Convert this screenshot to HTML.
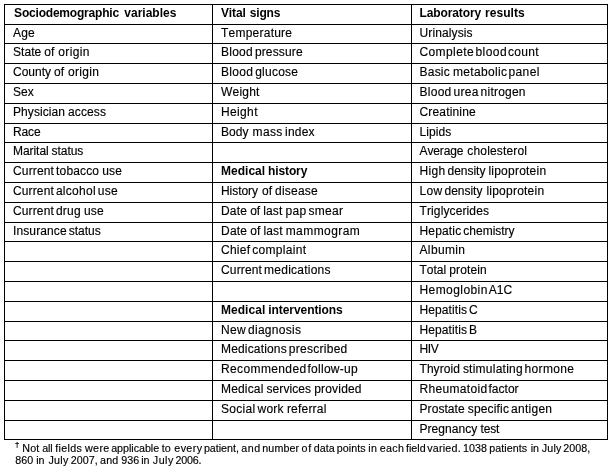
<!DOCTYPE html>
<html><head><meta charset="utf-8"><title>Table</title>
<style>
html,body{margin:0;padding:0;background:#fff;}
body{width:613px;height:470px;position:relative;overflow:hidden;font-family:"Liberation Sans",Arial,sans-serif;font-size:12px;color:#000;font-kerning:none;}
.h,.v{position:absolute;background:#000;}
.h{height:1px;left:4px;width:604px;}
.v{width:1px;top:4px;height:436px;}
.t{position:absolute;white-space:nowrap;line-height:14px;height:14px;-webkit-text-stroke:0.15px #000;}
.b{font-weight:bold;-webkit-text-stroke:0;}
.f{position:absolute;left:0;width:613px;height:13px;font-size:10.7px;line-height:13px;-webkit-text-stroke:0.15px #000;}
.f span{position:absolute;top:0;white-space:pre;}
.dg{position:absolute;left:15.0px;top:440px;font-size:7.5px;line-height:10px;font-weight:bold;transform:scaleX(1.25);transform-origin:50% 50%;}
</style></head><body>

<div class="h" style="top:4px"></div>
<div class="h" style="top:24px"></div>
<div class="h" style="top:43px"></div>
<div class="h" style="top:63px"></div>
<div class="h" style="top:83px"></div>
<div class="h" style="top:103px"></div>
<div class="h" style="top:123px"></div>
<div class="h" style="top:142px"></div>
<div class="h" style="top:162px"></div>
<div class="h" style="top:182px"></div>
<div class="h" style="top:202px"></div>
<div class="h" style="top:222px"></div>
<div class="h" style="top:241px"></div>
<div class="h" style="top:261px"></div>
<div class="h" style="top:281px"></div>
<div class="h" style="top:301px"></div>
<div class="h" style="top:321px"></div>
<div class="h" style="top:340px"></div>
<div class="h" style="top:360px"></div>
<div class="h" style="top:380px"></div>
<div class="h" style="top:400px"></div>
<div class="h" style="top:420px"></div>
<div class="h" style="top:439px"></div>
<div class="v" style="left:4px"></div>
<div class="v" style="left:212px"></div>
<div class="v" style="left:411px"></div>
<div class="v" style="left:607px"></div>
<div class="t b" style="left:14.1px;top:6px"><span style="letter-spacing:-0.201px">Sociodemographic</span><span style="word-spacing:2.066px"> </span><span style="letter-spacing:-0.004px">variables</span></div>
<div class="t" style="left:13px;top:26px"><span style="letter-spacing:0.218px">Age</span></div>
<div class="t" style="left:13px;top:45px"><span style="letter-spacing:0.043px">State</span><span style="word-spacing:-0.334px"> </span><span style="letter-spacing:0.043px">of</span><span style="word-spacing:0.666px"> </span><span style="letter-spacing:0.322px">origin</span></div>
<div class="t" style="left:13px;top:65px"><span style="letter-spacing:0.008px">County</span><span style="word-spacing:-0.334px"> </span><span style="letter-spacing:0.007px">of</span><span style="word-spacing:0.666px"> </span><span style="letter-spacing:0.286px">origin</span></div>
<div class="t" style="left:13px;top:85px"><span style="letter-spacing:0.080px">Sex</span></div>
<div class="t" style="left:13px;top:105px"><span style="letter-spacing:0.077px">Physician</span><span style="word-spacing:-0.334px"> </span><span style="letter-spacing:0.114px">access</span></div>
<div class="t" style="left:13px;top:125px"><span style="letter-spacing:-0.117px">Race</span></div>
<div class="t" style="left:13px;top:144px"><span style="letter-spacing:-0.057px">Marital</span><span style="word-spacing:-0.334px"> </span><span style="letter-spacing:-0.059px">status</span></div>
<div class="t" style="left:13px;top:164px"><span style="letter-spacing:0.151px">Current</span><span style="word-spacing:-1.334px"> </span><span style="letter-spacing:0.149px">tobacco</span><span style="word-spacing:-0.334px"> </span><span style="letter-spacing:0.228px">use</span></div>
<div class="t" style="left:13px;top:184px"><span style="letter-spacing:0.127px">Current</span><span style="word-spacing:-1.334px"> </span><span style="letter-spacing:0.268px">alcohol</span><span style="word-spacing:-1.334px"> </span><span style="letter-spacing:0.204px">use</span></div>
<div class="t" style="left:13px;top:204px"><span style="letter-spacing:0.128px">Current</span><span style="word-spacing:-1.334px"> </span><span style="letter-spacing:0.232px">drug</span><span style="word-spacing:-0.334px"> </span><span style="letter-spacing:0.204px">use</span></div>
<div class="t" style="left:13px;top:224px"><span style="letter-spacing:0.118px">Insurance</span><span style="word-spacing:-1.334px"> </span><span style="letter-spacing:-0.029px">status</span></div>
<div class="t b" style="left:221px;top:6px"><span style="letter-spacing:-0.135px">Vital</span><span style="word-spacing:0.666px"> </span><span style="letter-spacing:-0.135px">signs</span></div>
<div class="t" style="left:221px;top:26px"><span style="letter-spacing:0.232px">Temperature</span></div>
<div class="t" style="left:221px;top:45px"><span style="letter-spacing:0.237px">Blood</span><span style="word-spacing:-1.334px"> </span><span style="letter-spacing:0.139px">pressure</span></div>
<div class="t" style="left:221px;top:65px"><span style="letter-spacing:0.286px">Blood</span><span style="word-spacing:-1.334px"> </span><span style="letter-spacing:0.259px">glucose</span></div>
<div class="t" style="left:221px;top:85px"><span style="letter-spacing:0.222px">Weight</span></div>
<div class="t" style="left:221px;top:105px"><span style="letter-spacing:0.355px">Height</span></div>
<div class="t" style="left:221px;top:125px"><span style="letter-spacing:0.048px">Body</span><span style="word-spacing:0.666px"> </span><span style="letter-spacing:0.343px">mass</span><span style="word-spacing:-0.834px"> </span><span style="letter-spacing:0.198px">index</span></div>
<div class="t b" style="left:221px;top:164px"><span style="letter-spacing:0.012px">Medical</span><span style="word-spacing:-0.334px"> </span><span style="letter-spacing:-0.130px">history</span></div>
<div class="t" style="left:221px;top:184px"><span style="letter-spacing:-0.048px">History</span><span style="word-spacing:0.666px"> </span><span style="letter-spacing:-0.004px">of</span><span style="word-spacing:-0.334px"> </span><span style="letter-spacing:0.234px">disease</span></div>
<div class="t" style="left:221px;top:204px"><span style="letter-spacing:0.201px">Date</span><span style="word-spacing:-0.334px"> </span><span style="letter-spacing:0.034px">of</span><span style="word-spacing:-0.334px"> </span><span style="letter-spacing:0.119px">last</span><span style="word-spacing:-0.334px"> </span><span style="letter-spacing:0.364px">pap</span><span style="word-spacing:-1.334px"> </span><span style="letter-spacing:0.270px">smear</span></div>
<div class="t" style="left:221px;top:224px"><span style="letter-spacing:0.228px">Date</span><span style="word-spacing:-0.334px"> </span><span style="letter-spacing:0.061px">of</span><span style="word-spacing:-0.334px"> </span><span style="letter-spacing:0.147px">last</span><span style="word-spacing:-0.334px"> </span><span style="letter-spacing:0.435px">mammogram</span></div>
<div class="t" style="left:221px;top:243px"><span style="letter-spacing:0.254px">Chief</span><span style="word-spacing:-1.334px"> </span><span style="letter-spacing:0.295px">complaint</span></div>
<div class="t" style="left:221px;top:263px"><span style="letter-spacing:0.154px">Current</span><span style="word-spacing:-1.334px"> </span><span style="letter-spacing:0.238px">medications</span></div>
<div class="t b" style="left:221px;top:303px"><span style="letter-spacing:0.033px">Medical</span><span style="word-spacing:-0.334px"> </span><span style="letter-spacing:-0.068px">interventions</span></div>
<div class="t" style="left:221px;top:323px"><span style="letter-spacing:0.343px">New</span><span style="word-spacing:-1.334px"> </span><span style="letter-spacing:0.267px">diagnosis</span></div>
<div class="t" style="left:221px;top:342px"><span style="letter-spacing:0.162px">Medications</span><span style="word-spacing:-1.334px"> </span><span style="letter-spacing:0.271px">prescribed</span></div>
<div class="t" style="left:221px;top:362px"><span style="letter-spacing:0.375px">Recommended</span><span style="word-spacing:-2.334px"> </span><span style="letter-spacing:0.265px">follow-up</span></div>
<div class="t" style="left:221px;top:382px"><span style="letter-spacing:0.168px">Medical</span><span style="word-spacing:-0.334px"> </span><span style="letter-spacing:0.074px">services</span><span style="word-spacing:-0.334px"> </span><span style="letter-spacing:0.196px">provided</span></div>
<div class="t" style="left:221px;top:402px"><span style="letter-spacing:0.305px">Social</span><span style="word-spacing:-1.334px"> </span><span style="letter-spacing:0.252px">work</span><span style="word-spacing:-0.334px"> </span><span style="letter-spacing:0.209px">referral</span></div>
<div class="t b" style="left:419.5px;top:6px"><span style="letter-spacing:-0.119px">Laboratory</span><span style="word-spacing:0.666px"> </span><span style="letter-spacing:0.041px">results</span></div>
<div class="t" style="left:419.5px;top:26px"><span style="letter-spacing:0.116px">Urinalysis</span></div>
<div class="t" style="left:419.5px;top:45px"><span style="letter-spacing:0.390px">Complete</span><span style="word-spacing:-1.834px"> </span><span style="letter-spacing:0.450px">blood</span><span style="word-spacing:-2.334px"> </span><span style="letter-spacing:0.251px">count</span></div>
<div class="t" style="left:419.5px;top:65px"><span style="letter-spacing:0.230px">Basic</span><span style="word-spacing:-0.334px"> </span><span style="letter-spacing:0.337px">metabolic</span><span style="word-spacing:-2.334px"> </span><span style="letter-spacing:0.427px">panel</span></div>
<div class="t" style="left:419.5px;top:85px"><span style="letter-spacing:0.272px">Blood</span><span style="word-spacing:-1.334px"> </span><span style="letter-spacing:0.256px">urea</span><span style="word-spacing:-1.334px"> </span><span style="letter-spacing:0.214px">nitrogen</span></div>
<div class="t" style="left:419.5px;top:105px"><span style="letter-spacing:0.165px">Creatinine</span></div>
<div class="t" style="left:419.5px;top:125px"><span style="letter-spacing:0.066px">Lipids</span></div>
<div class="t" style="left:419.5px;top:144px"><span style="letter-spacing:-0.120px">Average</span><span style="word-spacing:0.666px"> </span><span style="letter-spacing:0.159px">cholesterol</span></div>
<div class="t" style="left:419.5px;top:164px"><span style="letter-spacing:0.321px">High</span><span style="word-spacing:-1.334px"> </span><span style="letter-spacing:-0.012px">density</span><span style="word-spacing:-0.334px"> </span><span style="letter-spacing:0.230px">lipoprotein</span></div>
<div class="t" style="left:419.5px;top:184px"><span style="letter-spacing:0.319px">Low</span><span style="word-spacing:-1.334px"> </span><span style="letter-spacing:-0.013px">density</span><span style="word-spacing:0.666px"> </span><span style="letter-spacing:0.229px">lipoprotein</span></div>
<div class="t" style="left:419.5px;top:204px"><span style="letter-spacing:0.119px">Triglycerides</span></div>
<div class="t" style="left:419.5px;top:224px"><span style="letter-spacing:0.161px">Hepatic</span><span style="word-spacing:-1.334px"> </span><span style="letter-spacing:-0.009px">chemistry</span></div>
<div class="t" style="left:419.5px;top:243px"><span style="letter-spacing:0.354px">Albumin</span></div>
<div class="t" style="left:419.5px;top:263px"><span style="letter-spacing:0.004px">Total</span><span style="word-spacing:-0.334px"> </span><span style="letter-spacing:0.126px">protein</span></div>
<div class="t" style="left:419.5px;top:283px"><span style="letter-spacing:0.425px">Hemoglobin</span><span style="word-spacing:-2.334px"> </span><span style="letter-spacing:-0.035px">A1C</span></div>
<div class="t" style="left:419.5px;top:303px"><span style="letter-spacing:0.093px">Hepatitis</span><span style="word-spacing:-1.334px"> </span><span style="letter-spacing:0.281px">C</span></div>
<div class="t" style="left:419.5px;top:323px"><span style="letter-spacing:0.090px">Hepatitis</span><span style="word-spacing:-1.334px"> </span><span style="letter-spacing:-0.059px">B</span></div>
<div class="t" style="left:419.5px;top:342px"><span style="letter-spacing:-0.372px">HIV</span></div>
<div class="t" style="left:419.5px;top:362px"><span style="letter-spacing:0.051px">Thyroid</span><span style="word-spacing:-0.334px"> </span><span style="letter-spacing:0.248px">stimulating</span><span style="word-spacing:-1.834px"> </span><span style="letter-spacing:0.358px">hormone</span></div>
<div class="t" style="left:419.5px;top:382px"><span style="letter-spacing:0.320px">Rheumatoid</span><span style="word-spacing:-2.334px"> </span><span style="letter-spacing:0.039px">factor</span></div>
<div class="t" style="left:419.5px;top:402px"><span style="letter-spacing:0.073px">Prostate</span><span style="word-spacing:-0.334px"> </span><span style="letter-spacing:0.157px">specific</span><span style="word-spacing:-1.334px"> </span><span style="letter-spacing:0.267px">antigen</span></div>
<div class="t" style="left:419.5px;top:422px"><span style="letter-spacing:0.058px">Pregnancy</span><span style="word-spacing:-0.334px"> </span><span style="letter-spacing:-0.098px">test</span></div>
<div class="dg">†</div>
<div class="f" style="top:442.3px"><span style="left:22.30px;letter-spacing:0.116px">Not </span><span style="left:42.30px;letter-spacing:-0.235px">all </span><span style="left:55.30px;letter-spacing:0.337px">fields </span><span style="left:85.00px;letter-spacing:0.377px">were </span><span style="left:111.20px;letter-spacing:-0.019px">applicable </span><span style="left:161.80px;letter-spacing:0.038px">to </span><span style="left:174.30px;letter-spacing:0.387px">every </span><span style="left:203.90px;letter-spacing:-0.012px">patient, </span><span style="left:241.20px;letter-spacing:0.583px">and </span><span style="left:262.30px;letter-spacing:0.120px">number </span><span style="left:301.60px;letter-spacing:0.738px">of </span><span style="left:313.80px;letter-spacing:0.044px">data </span><span style="left:336.80px;letter-spacing:0.041px">points </span><span style="left:368.30px;letter-spacing:0.286px">in </span><span style="left:379.80px;letter-spacing:0.299px">each </span><span style="left:405.90px;letter-spacing:0.054px">field </span><span style="left:427.30px;letter-spacing:0.212px">varied. </span><span style="left:463.10px;letter-spacing:0.049px">1038 </span><span style="left:489.30px;letter-spacing:0.065px">patients </span><span style="left:530.80px;letter-spacing:-0.164px">in </span><span style="left:541.70px;letter-spacing:0.243px">July </span><span style="left:563.30px;letter-spacing:0.045px">2008,</span></div>
<div class="f" style="top:453.9px"><span style="left:15.20px;letter-spacing:0.049px">860 </span><span style="left:36.20px;letter-spacing:-0.164px">in </span><span style="left:48.40px;letter-spacing:0.293px">July </span><span style="left:70.70px;letter-spacing:0.045px">2007, </span><span style="left:100.10px;letter-spacing:0.183px">and </span><span style="left:121.20px;letter-spacing:0.049px">936 </span><span style="left:141.20px;letter-spacing:-0.164px">in </span><span style="left:152.80px;letter-spacing:0.493px">July </span><span style="left:175.40px;letter-spacing:-0.195px">2006.</span></div>
</body></html>
